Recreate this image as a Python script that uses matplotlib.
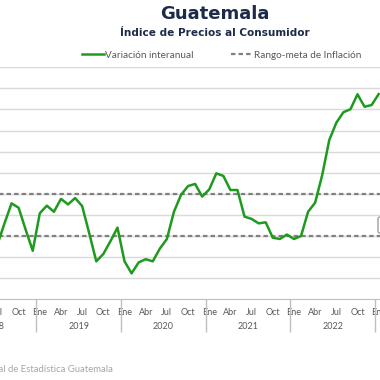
import matplotlib
matplotlib.use("Agg")
import matplotlib.pyplot as plt
from matplotlib.patches import FancyBboxPatch

plt.rcParams['font.family'] = ['Lato', 'DejaVu Sans']

# meses desde Jul 2018 hasta Ene 2023 (indice 0 = Ene 2019)
meses = ["Ene", "Feb", "Mar", "Abr", "May", "Jun", "Jul", "Ago", "Sep", "Oct", "Nov", "Dic"]
anios = [2018, 2019, 2020, 2021, 2022]
inicio = -6  # Jul 2018
variacion = [2.60, 3.60, 4.55, 4.34, 3.30, 2.30,              # Jul-Dic 2018
             4.08, 4.44, 4.15, 4.76, 4.50, 4.80, 4.42, 3.13, 1.80, 2.15, 2.75, 3.40,  # 2019
             1.80, 1.23, 1.75, 1.90, 1.80, 2.40, 2.86, 4.15, 4.95, 5.37, 5.47, 4.87,  # 2020
             5.21, 5.97, 5.85, 5.18, 5.18, 3.92, 3.81, 3.60, 3.65, 2.92, 2.86, 3.07,  # 2021
             2.86, 3.00, 4.15, 4.58, 5.89, 7.55, 8.37, 8.87, 9.01, 9.72, 9.13, 9.21,  # 2022
             9.73]                                                    # Ene 2023
meta_inf = 3.0
meta_sup = 5.0

x = list(range(inicio, inicio + len(variacion)))

fig = plt.figure(figsize=(3.8, 3.8), dpi=100)
# el grafico original es mas ancho: los ejes se salen por ambos lados
px0, pxm = 39.8, 7.06
xmin, xmax = -12.5, 50
left = (px0 + pxm * xmin) / 380
width = pxm * (xmax - xmin) / 380
ax = fig.add_axes([left, (380 - 299.3) / 380, width, 232 / 380])

for v in range(1, 12):
    ax.axhline(v, color="#d9d9d9", lw=1, zorder=0)
ax.axhline(meta_sup, color="#808080", lw=1.6, dashes=(2, 1.4), zorder=1)
ax.axhline(meta_inf, color="#808080", lw=1.6, dashes=(2, 1.4), zorder=1)
ax.plot(x, variacion, color="#1e9a1e", lw=1.8, zorder=2)

ax.set_xlim(xmin, xmax)
ax.set_ylim(0, 11)
for s in ["top", "right", "left"]:
    ax.spines[s].set_visible(False)
ax.spines["bottom"].set_color("#bfbfbf")
ax.set_yticks([])

ticks = [m for m in range(-12, 49) if m % 3 == 0]
ax.set_xticks(ticks)
ax.set_xticklabels([meses[m % 12] for m in ticks], fontsize=6.5, color="#595959")
ax.tick_params(axis="x", which="major", length=0, pad=6)
ax.set_xticks([-12.5 + 12 * k for k in range(6)], minor=True)
ax.tick_params(axis="x", which="minor", length=24, color="#bfbfbf", width=1)
for k, a in enumerate(anios):
    ax.text(-6.5 + 12 * k, -0.116, str(a), transform=ax.get_xaxis_transform(),
            ha="center", va="center", fontsize=6.5, color="#595959")

fig.text(0.566, 0.963, "Guatemala", ha="center", va="center", family="DejaVu Sans",
         fontsize=13, fontweight="bold", color="#1c2b4a")
fig.text(0.566, 0.912, "Índice de Precios al Consumidor", ha="center", va="center",
         family="DejaVu Sans", fontsize=7.6, fontweight="bold", color="#1c2b4a")

h1, = ax.plot([], [], color="#1e9a1e", lw=1.8, label="Variación interanual")
h2, = ax.plot([], [], color="#808080", lw=1.6, dashes=(2, 1.4), label="Rango-meta de Inflación")
fig.legend(handles=[h1, h2], loc="center", bbox_to_anchor=(0.583, 0.855), ncol=2,
           frameon=False, fontsize=7.2, handlelength=2.2, handletextpad=0.1,
           columnspacing=3.7, labelcolor="#595959")

fig.text(113 / 380, (380 - 369) / 380, "Fuente: Instituto Nacional de Estadística Guatemala",
         ha="right", va="center", fontsize=6.8, color="#a6a6a6")

# recuadro de etiqueta cortado en el borde derecho
fig.patches.append(FancyBboxPatch((378 / 380, (380 - 233) / 380), 20 / 380, 16 / 380,
                                  boxstyle="round,pad=0,rounding_size=0.005",
                                  transform=fig.transFigure, fc="white", ec="#a0a0a0", lw=1))

fig.savefig("out.png", dpi=100)
